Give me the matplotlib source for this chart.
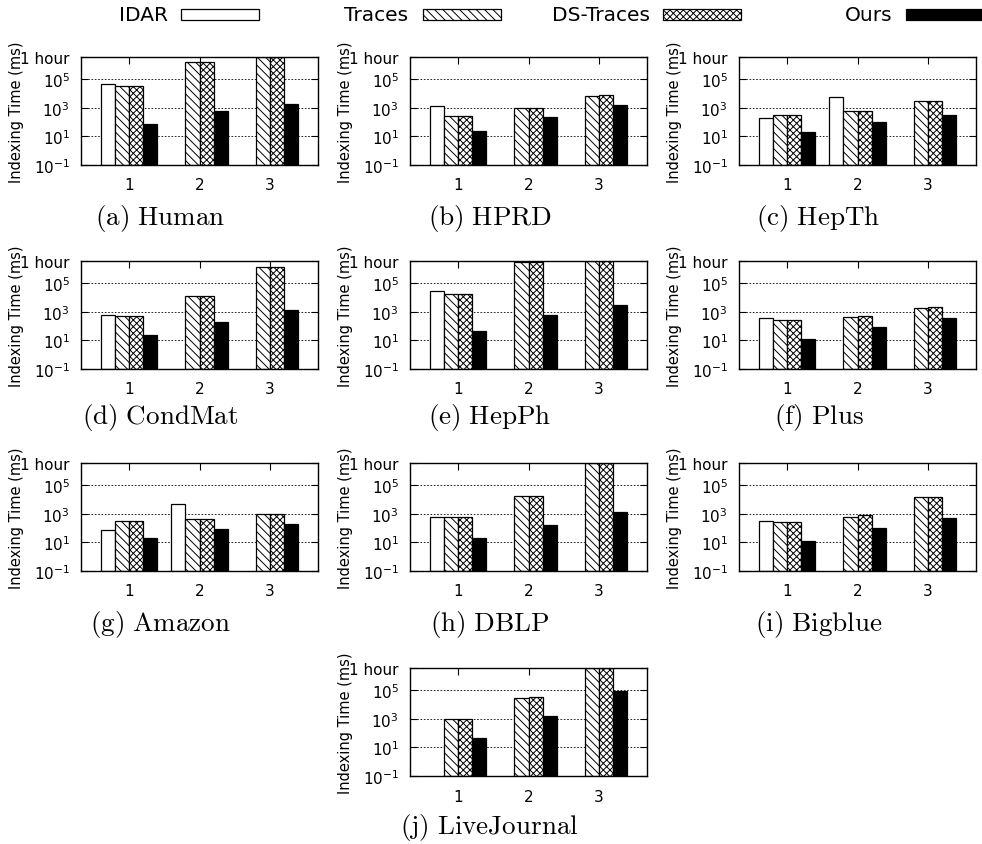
import numpy as np
import matplotlib
matplotlib.use("Agg")
import matplotlib.pyplot as plt
from matplotlib.patches import Rectangle

plt.rcParams['font.family'] = ['DejaVu Sans']
plt.rcParams['mathtext.default'] = 'regular'
plt.rcParams['hatch.linewidth'] = 0.7

# ---------------- data ----------------
methods = ["IDAR", "Traces", "DS-Traces", "Ours"]
groups = [1, 2, 3]
captions = ["(a) Human", "(b) HPRD", "(c) HepTh", "(d) CondMat", "(e) HepPh",
            "(f) Plus", "(g) Amazon", "(h) DBLP", "(i) Bigblue", "(j) LiveJournal"]
HOUR = 3.6e6
NA = np.nan

idar = [
    [4.5e4, NA, NA],      # Human
    [1400, NA, NA],       # HPRD
    [180, 5500, NA],      # HepTh
    [620, NA, NA],        # CondMat
    [2.8e4, NA, NA],      # HepPh
    [360, NA, NA],        # Plus
    [69, 4500, NA],       # Amazon
    [620, NA, NA],        # DBLP
    [340, NA, NA],        # Bigblue
    [NA, NA, NA],         # LiveJournal
]
traces = [
    [3.2e4, 1.6e6, HOUR],
    [290, 1000, 7200],
    [330, 620, 3200],
    [520, 1.2e4, 1.4e6],
    [1.8e4, 2.9e6, HOUR],
    [280, 450, 1900],
    [325, 470, 900],
    [620, 1.9e4, HOUR],
    [250, 650, 1.4e4],
    [900, 2.9e4, HOUR],
]
ds_traces = [
    [3.2e4, 1.6e6, HOUR],
    [290, 1000, 8500],
    [330, 620, 3200],
    [520, 1.2e4, 1.4e6],
    [1.8e4, 2.9e6, HOUR],
    [280, 520, 2100],
    [325, 470, 900],
    [620, 1.9e4, HOUR],
    [250, 810, 1.4e4],
    [900, 3.4e4, HOUR],
]
ours = [
    [76, 590, 1800],
    [23, 235, 1700],
    [19, 100, 310],
    [25, 180, 1250],
    [47, 560, 2800],
    [13, 81, 400],
    [21, 85, 210],
    [20, 160, 1300],
    [12, 100, 520],
    [47, 1600, 9.5e4],
]
ytick_vals = [0.1, 10, 1e3, 1e5, HOUR]
ytick_labels = ["10$^{-1}$", "10$^{1}$", "10$^{3}$", "10$^{5}$", "1 hour"]
YMIN = 0.1

# ---------------- styles ----------------
styles = [
    dict(facecolor="white", hatch=None),
    dict(facecolor="white", hatch="\\\\\\\\"),
    dict(facecolor="white", hatch="xxxxx"),
    dict(facecolor="black", hatch=None),
]

W, H = 982, 845
fig = plt.figure(figsize=(W / 100, H / 100), dpi=100)

col_left = [81, 410, 739]
row_top = [58, 262, 464, 669]
row_cap = [218, 418, 625, 828]
aw, ah = 237, 108

positions = []
for r in range(3):
    for c in range(3):
        positions.append((col_left[c], row_top[r], row_cap[r]))
positions.append((col_left[1], row_top[3], row_cap[3]))

series = [idar, traces, ds_traces, ours]
offsets = [-0.3, -0.1, 0.1, 0.3]
bw = 0.2

for i, (lx, ty, cy) in enumerate(positions):
    ax = fig.add_axes([lx / W, 1 - (ty + ah) / H, aw / W, ah / H])
    ax.set_yscale("log")
    for s, (data, st, off) in enumerate(zip(series, styles, offsets)):
        vals = np.array(data[i], dtype=float)
        xs = np.array(groups, dtype=float) + off
        m = ~np.isnan(vals)
        ax.bar(xs[m], vals[m] - YMIN, bottom=YMIN, width=bw,
               facecolor=st["facecolor"], hatch=st["hatch"],
               edgecolor="black", linewidth=0.9, zorder=3)
    ax.set_ylim(YMIN, HOUR)
    ax.set_xlim(0.31, 3.69)
    ax.set_yticks(ytick_vals)
    ax.set_yticklabels(ytick_labels, fontsize=11)
    ax.minorticks_off()
    ax.set_xticks(groups)
    ax.set_xticklabels([str(g) for g in groups], fontsize=11)
    ax.tick_params(direction="in", top=True, right=True, length=5, width=0.8)
    ax.tick_params(axis="y", pad=8)
    ax.tick_params(axis="x", pad=9)
    ax.grid(axis="y", color="black", linestyle=(0, (2, 2)), linewidth=0.6, zorder=0)
    for sp in ax.spines.values():
        sp.set_linewidth(1.0)
        sp.set_zorder(5)
    ax.set_ylabel("Indexing Time (ms)", fontsize=10.5)
    ax.yaxis.set_label_coords(-57 / aw, 0.5)
    fig.text((lx + aw / 2 - 39) / W, 1 - cy / H,
             r"$\mathrm{" + captions[i].replace(" ", r"\ ") + "}$",
             fontsize=19.5, math_fontfamily="cm", ha="center", va="center")

# ---------------- legend ----------------
text_right = [168, 408, 650, 892]
box_left = [181, 423, 663, 906]
box_w = 78
for name, st, tr, bl in zip(methods, styles, text_right, box_left):
    fig.text(tr / W, 1 - 15.5 / H, name, fontsize=14.5, ha="right", va="center")
    fig.patches.append(Rectangle((bl / W, 1 - 20.5 / H), box_w / W, 11 / H,
                                 transform=fig.transFigure, facecolor=st["facecolor"],
                                 hatch=st["hatch"], edgecolor="black", linewidth=0.9))

fig.savefig("out.png", dpi=100)
